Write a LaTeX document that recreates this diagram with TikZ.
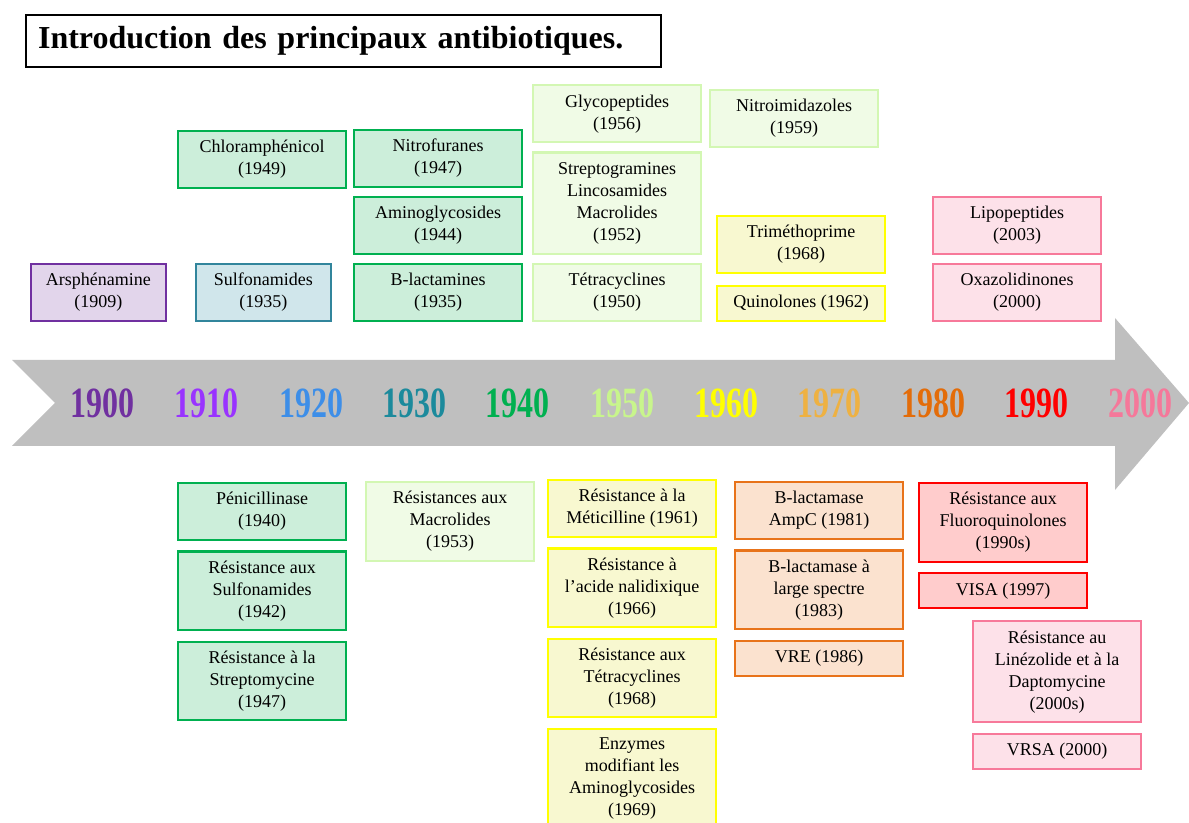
\documentclass[tikz,border=0pt]{standalone}
\usepackage{fontspec}
\setmainfont{Liberation Serif}
\usepackage{graphicx}
\usepackage{tikz}
\usetikzlibrary{positioning}

\definecolor{purpleline}{HTML}{7030A0}
\definecolor{purplefill}{HTML}{E2D5EB}
\definecolor{tealline}{HTML}{31859C}
\definecolor{tealfill}{HTML}{D0E6EB}
\definecolor{greenline}{HTML}{00B050}
\definecolor{greenfill}{HTML}{CCEEDA}
\definecolor{lgreenline}{HTML}{D3F7B3}
\definecolor{lgreenfill}{HTML}{F0FBE6}
\definecolor{yellowline}{HTML}{FFFF00}
\definecolor{yellowfill}{HTML}{F8F8D0}
\definecolor{pinkline}{HTML}{F7799A}
\definecolor{pinkfill}{HTML}{FDE1E9}
\definecolor{orangeline}{HTML}{E8731A}
\definecolor{orangefill}{HTML}{FBE2CF}
\definecolor{redline}{HTML}{FF0000}
\definecolor{redfill}{HTML}{FFCCCC}
\definecolor{arrowgray}{HTML}{BFBFBF}
\definecolor{c1900}{HTML}{7030A0}
\definecolor{c1910}{HTML}{9933FF}
\definecolor{c1920}{HTML}{3D8EE8}
\definecolor{c1930}{HTML}{1C8A9C}
\definecolor{c1940}{HTML}{00B050}
\definecolor{c1950}{HTML}{C8F58C}
\definecolor{c1960}{HTML}{FFFF00}
\definecolor{c1970}{HTML}{EEB142}
\definecolor{c1980}{HTML}{E36C09}
\definecolor{c1990}{HTML}{FF0000}
\definecolor{c2000}{HTML}{F5789A}

\newcommand{\tallyear}[1]{\scalebox{1}[1.35]{#1}}

\begin{document}
\begin{tikzpicture}[
  x=0.75pt, y=-0.75pt,
  node distance=7pt,
  box/.style={draw, line width=1.6pt, rectangle, align=center, inner sep=2pt,
    minimum width=126pt, minimum height=42.75pt,
    font=\fontsize{13.5}{16.5}\selectfont},
  narrow/.style={minimum width=101pt},
  oneline/.style={minimum height=26.25pt},
  threeline/.style={minimum height=59pt},
  fourline/.style={minimum height=76pt},
  purplebox/.style={box, draw=purpleline, fill=purplefill},
  tealbox/.style={box, draw=tealline, fill=tealfill},
  greenbox/.style={box, draw=greenline, fill=greenfill},
  lgreenbox/.style={box, draw=lgreenline, fill=lgreenfill},
  yellowbox/.style={box, draw=yellowline, fill=yellowfill},
  pinkbox/.style={box, draw=pinkline, fill=pinkfill},
  orangebox/.style={box, draw=orangeline, fill=orangefill},
  redbox/.style={box, draw=redline, fill=redfill},
  year/.style={inner sep=0pt, font=\bfseries\fontsize{24}{24}\selectfont}
]
\useasboundingbox (0,0) rectangle (1189,823);

% title
\node (title) [draw, line width=1.6pt, anchor=north west, inner xsep=9pt,
  text width=458pt, align=left, minimum height=39pt,
  font=\bfseries\fontsize{24}{24}\selectfont] at (25,14)
  {\mbox{Introduction des principaux antibiotiques.}};

% timeline arrow
\fill[arrowgray] (12,360) -- (1115,360) -- (1115,318) -- (1189,403)
  -- (1115,490) -- (1115,446) -- (12,446) -- (55,403) -- cycle;

\node (y1900) [year, text=c1900] at (102,403) {\tallyear{1900}};
\node (y1910) [year, text=c1910] at (206,403) {\tallyear{1910}};
\node (y1920) [year, text=c1920] at (311,403) {\tallyear{1920}};
\node (y1930) [year, text=c1930] at (414,403) {\tallyear{1930}};
\node (y1940) [year, text=c1940] at (517,403) {\tallyear{1940}};
\node (y1950) [year, text=c1950] at (622,403) {\tallyear{1950}};
\node (y1960) [year, text=c1960] at (726,403) {\tallyear{1960}};
\node (y1970) [year, text=c1970] at (829,403) {\tallyear{1970}};
\node (y1980) [year, text=c1980] at (933,403) {\tallyear{1980}};
\node (y1990) [year, text=c1990] at (1036,403) {\tallyear{1990}};
\node (y2000) [year, text=c2000] at (1140,403) {\tallyear{2000}};

% antibiotics (above the arrow)
\node (arsph) [purplebox, narrow, anchor=south west] at (30,322) {Arsphénamine\\(1909)};
\node (sulfo) [tealbox, narrow, anchor=south west] at (195,322) {Sulfonamides\\(1935)};
\node (chloram) [greenbox, anchor=south west] at (177,189) {Chloramphénicol\\(1949)};
\node (blact) [greenbox, anchor=south west] at (353,322) {B-lactamines\\(1935)};
\node (amino) [greenbox, above=6pt of blact] {Aminoglycosides\\(1944)};
\node (nitrofur) [greenbox, above=6pt of amino] {Nitrofuranes\\(1947)};
\node (tetra) [lgreenbox, anchor=south west] at (532,322) {Tétracyclines\\(1950)};
\node (strepto) [lgreenbox, fourline, above=6pt of tetra] {Streptogramines\\Lincosamides\\Macrolides\\(1952)};
\node (glyco) [lgreenbox, above=6pt of strepto] {Glycopeptides\\(1956)};
\node (nitroimid) [lgreenbox, anchor=north west] at (709,89) {Nitroimidazoles\\(1959)};
\node (quino) [yellowbox, oneline, anchor=south west] at (716,322) {Quinolones (1962)};
\node (trimetho) [yellowbox, above=8pt of quino] {Triméthoprime\\(1968)};
\node (oxazo) [pinkbox, anchor=south west] at (932,322) {Oxazolidinones\\(2000)};
\node (lipo) [pinkbox, above=6pt of oxazo] {Lipopeptides\\(2003)};

% resistances (below the arrow)
\node (penicil) [greenbox, anchor=north west] at (177,482) {Pénicillinase\\(1940)};
\node (rsulfo) [greenbox, threeline, below=of penicil] {Résistance aux\\Sulfonamides\\(1942)};
\node (rstrepto) [greenbox, threeline, below=of rsulfo] {Résistance à la\\Streptomycine\\(1947)};
\node (rmacro) [lgreenbox, threeline, anchor=north west] at (365,481) {Résistances aux\\Macrolides\\(1953)};
\node (rmeti) [yellowbox, anchor=north west] at (547,479) {Résistance à la\\Méticilline (1961)};
\node (rnalid) [yellowbox, threeline, below=of rmeti] {Résistance à\\l’acide nalidixique\\(1966)};
\node (rtetra) [yellowbox, threeline, below=of rnalid] {Résistance aux\\Tétracyclines\\(1968)};
\node (enzymes) [yellowbox, minimum height=74pt, below=of rtetra] {Enzymes\\modifiant les\\Aminoglycosides\\(1969)};
\node (ampc) [orangebox, anchor=north west] at (734,481) {B-lactamase\\AmpC (1981)};
\node (largesp) [orangebox, threeline, below=of ampc] {B-lactamase à\\large spectre\\(1983)};
\node (vre) [orangebox, oneline, below=of largesp] {VRE (1986)};
\node (rfluoro) [redbox, threeline, anchor=north west] at (918,482) {Résistance aux\\Fluoroquinolones\\(1990s)};
\node (visa) [redbox, oneline, below=of rfluoro] {VISA (1997)};
\node (rlinez) [pinkbox, fourline, anchor=north west] at (972,620) {Résistance au\\Linézolide et à la\\Daptomycine\\(2000s)};
\node (vrsa) [pinkbox, oneline, below=of rlinez] {VRSA (2000)};
\end{tikzpicture}
\end{document}
